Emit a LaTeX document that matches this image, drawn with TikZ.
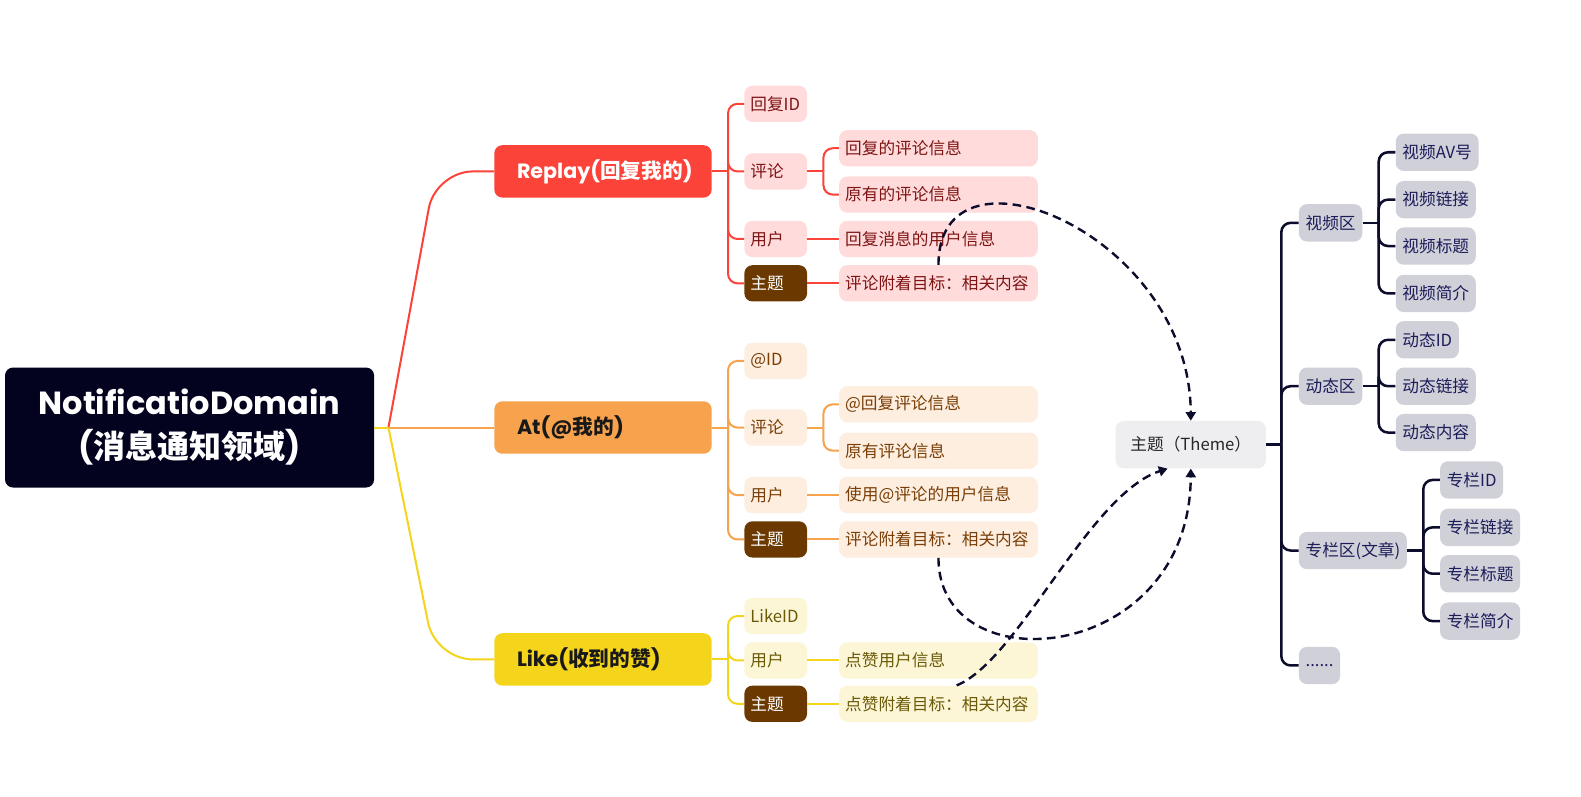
\documentclass[tikz,border=0pt]{standalone}
\usepackage{fontspec}
\setmainfont{Noto Sans CJK SC}
\newfontfamily\popfont{Poppins}
\newcommand\poptxt[1]{{\popfont #1}}
\usetikzlibrary{arrows.meta,calc}

\definecolor{rootbg}{HTML}{03021F}
\definecolor{replayred}{HTML}{FB433A}
\definecolor{atorange}{HTML}{F7A24C}
\definecolor{likeyellow}{HTML}{F5D41C}
\definecolor{replayfill}{HTML}{FFDBDB}
\definecolor{atfill}{HTML}{FDEEE0}
\definecolor{likefill}{HTML}{FDF6D6}
\definecolor{replaytext}{HTML}{7E1414}
\definecolor{attext}{HTML}{7A3E06}
\definecolor{liketext}{HTML}{6A5A08}
\definecolor{topicbrown}{HTML}{6B3900}
\definecolor{themefill}{HTML}{EEEDF0}
\definecolor{areafill}{HTML}{D0D0D9}
\definecolor{areatext}{HTML}{1C1C5A}
\definecolor{navy}{HTML}{0C0C2C}

\begin{document}
\begin{tikzpicture}[x=0.75625pt, y=-0.75625pt,
  leaffont/.style={font=\fontsize{12.5}{15}\selectfont},
  box/.style={leaffont, rounded corners=6pt, inner xsep=4.5pt, inner ysep=0pt,
    minimum height=27.2pt, anchor=west, align=left},
  keybox/.style={box, text width=38pt},
  infobox/.style={box, text width=140pt},
  rkey/.style={keybox, fill=replayfill, text=replaytext},
  rinfo/.style={infobox, fill=replayfill, text=replaytext},
  akey/.style={keybox, fill=atfill, text=attext},
  ainfo/.style={infobox, fill=atfill, text=attext},
  lkey/.style={keybox, fill=likefill, text=liketext},
  linfo/.style={infobox, fill=likefill, text=liketext},
  topic/.style={keybox, fill=topicbrown, text=white},
  branch/.style={anchor=west, rounded corners=6pt, minimum height=39.3pt,
    inner xsep=17pt, text width=129pt, font=\bfseries\fontsize{15.5}{19}\selectfont},
  link/.style={line width=1.5pt, draw=#1},
  elbow/.style={link=#1, rounded corners=7pt},
  area/.style={leaffont, anchor=west, rounded corners=6pt, fill=areafill,
    text=areatext, inner xsep=5pt, inner ysep=0pt, minimum height=28pt},
  dep/.style={draw=navy, line width=1.8pt, dash pattern=on 6.5pt off 4pt,
    -{Triangle[length=6.5pt,width=7.5pt]}}
]
  \fill[white] (0,0) rectangle (1568,790);
  \useasboundingbox (0,0) rectangle (1568,790);

  % 1. Root and the three message kinds
  \node[fill=rootbg, text=white, rounded corners=6pt, minimum width=276.8pt,
    minimum height=90pt, align=center, font=\bfseries\fontsize{24}{33}\selectfont]
    (root) at (188,424) {\poptxt{NotificatioDomain}\\\poptxt{(}消息通知领域\poptxt{)}};
  \node[branch, fill=replayred, text=white] (rp) at (490,170) {\poptxt{Replay(}回复我的\poptxt{)}};
  \node[branch, fill=atorange, text=black!90] (at) at (490,424) {\poptxt{At(@}我的\poptxt{)}};
  \node[branch, fill=likeyellow, text=black!90] (lk) at (490,654) {\poptxt{Like(}收到的赞\poptxt{)}};

  \path (root.east) ++(14,0) coordinate (rootj);
  \draw[link=replayred, rounded corners=28pt] (rootj) -- ($(rp.west)+(-58,0)$) -- (rp.west);
  \draw[link=atorange] (root.east) -- (at.west);
  \draw[link=likeyellow] (root.east) -- (rootj);
  \draw[link=likeyellow, rounded corners=28pt] (rootj) -- ($(lk.west)+(-58,0)$) -- (lk.west);

  % 2. Replay branch
  \node[rkey] (r1) at (738,103) {回复ID};
  \node[rkey] (r2) at (738,170) {评论};
  \node[rkey] (r3) at (738,237) {用户};
  \node[topic] (r4) at (738,281) {主题};
  \node[rinfo] (r21) at (832,147) {回复的评论信息};
  \node[rinfo] (r22) at (832,193) {原有的评论信息};
  \node[rinfo] (r31) at (832,237) {回复消息的用户信息};
  \node[rinfo] (r41) at (832,281) {评论附着目标：相关内容};

  \draw[link=replayred] (rp.east) -- ++(16,0) coordinate (rpj);
  \foreach \kid in {r1,r2,r3,r4} \draw[elbow=replayred] (rpj) |- (\kid.west);
  \draw[link=replayred] (r2.east) -- ++(16,0) coordinate (r2j);
  \foreach \kid in {r21,r22} \draw[elbow=replayred] (r2j) |- (\kid.west);
  \draw[link=replayred] (r3.east) -- (r31.west);
  \draw[link=replayred] (r4.east) -- (r41.west);

  % 3. At branch
  \node[akey] (a1) at (738,358) {@ID};
  \node[akey] (a2) at (738,424) {评论};
  \node[akey] (a3) at (738,491) {用户};
  \node[topic] (a4) at (738,535) {主题};
  \node[ainfo] (a21) at (832,401) {@回复评论信息};
  \node[ainfo] (a22) at (832,447) {原有评论信息};
  \node[ainfo] (a31) at (832,491) {使用@评论的用户信息};
  \node[ainfo] (a41) at (832,535) {评论附着目标：相关内容};

  \draw[link=atorange] (at.east) -- ++(16,0) coordinate (atj);
  \foreach \kid in {a1,a2,a3,a4} \draw[elbow=atorange] (atj) |- (\kid.west);
  \draw[link=atorange] (a2.east) -- ++(16,0) coordinate (a2j);
  \foreach \kid in {a21,a22} \draw[elbow=atorange] (a2j) |- (\kid.west);
  \draw[link=atorange] (a3.east) -- (a31.west);
  \draw[link=atorange] (a4.east) -- (a41.west);

  % 4. Like branch
  \node[lkey] (l1) at (738,611) {LikeID};
  \node[lkey] (l2) at (738,655) {用户};
  \node[topic] (l3) at (738,698) {主题};
  \node[linfo] (l21) at (832,655) {点赞用户信息};
  \node[linfo] (l31) at (832,698) {点赞附着目标：相关内容};

  \draw[link=likeyellow] (lk.east) -- ++(16,0) coordinate (lkj);
  \foreach \kid in {l1,l2,l3} \draw[elbow=likeyellow] (lkj) |- (\kid.west);
  \draw[link=likeyellow] (l2.east) -- (l21.west);
  \draw[link=likeyellow] (l3.east) -- (l31.west);

  % 5. Theme and its areas
  \node[leaffont, fill=themefill, text=black!85, rounded corners=6pt,
    minimum width=112.7pt, minimum height=35.5pt] (theme) at (1181,441) {主题（Theme）};
  \node[area] (v) at (1288,221) {视频区};
  \node[area] (d) at (1288,383) {动态区};
  \node[area] (z) at (1288,546) {专栏区(文章)};
  \node[area] (e) at (1288,660) {......};
  \node[area] (v1) at (1384,151) {视频AV号};
  \node[area] (v2) at (1384,198) {视频链接};
  \node[area] (v3) at (1384,244) {视频标题};
  \node[area] (v4) at (1384,291) {视频简介};
  \node[area] (d1) at (1384,337) {动态ID};
  \node[area] (d2) at (1384,383) {动态链接};
  \node[area] (d3) at (1384,429) {动态内容};
  \node[area] (z1) at (1428,476) {专栏ID};
  \node[area] (z2) at (1428,523) {专栏链接};
  \node[area] (z3) at (1428,569) {专栏标题};
  \node[area] (z4) at (1428,616) {专栏简介};

  \draw[link=navy, line width=1.9pt] (theme.east) -- ++(15,0) coordinate (thj);
  \foreach \kid in {v,d,z,e} \draw[elbow=navy, line width=1.9pt] (thj) |- (\kid.west);
  \draw[link=navy, line width=1.9pt] (v.east) -- ++(16,0) coordinate (vj);
  \foreach \kid in {v1,v2,v3,v4} \draw[elbow=navy, line width=1.9pt] (vj) |- (\kid.west);
  \draw[link=navy, line width=1.9pt] (d.east) -- ++(16,0) coordinate (dj);
  \foreach \kid in {d1,d2,d3} \draw[elbow=navy, line width=1.9pt] (dj) |- (\kid.west);
  \draw[link=navy, line width=1.9pt] (z.east) -- ++(16,0) coordinate (zj);
  \foreach \kid in {z1,z2,z3,z4} \draw[elbow=navy, line width=1.9pt] (zj) |- (\kid.west);

  % 6. Topic targets point to the theme
  \draw[dep] (r41.north) .. controls (930,130) and (1180,230) .. (theme.north);
  \draw[dep] (a41.south) .. controls (930,680) and (1180,660) .. (theme.south);
  \draw[dep] ($(l31.north)+(18,0)$) .. controls (1010,655) and (1080,490) .. ($(theme.south)+(-23,0)$);
\end{tikzpicture}
\end{document}
